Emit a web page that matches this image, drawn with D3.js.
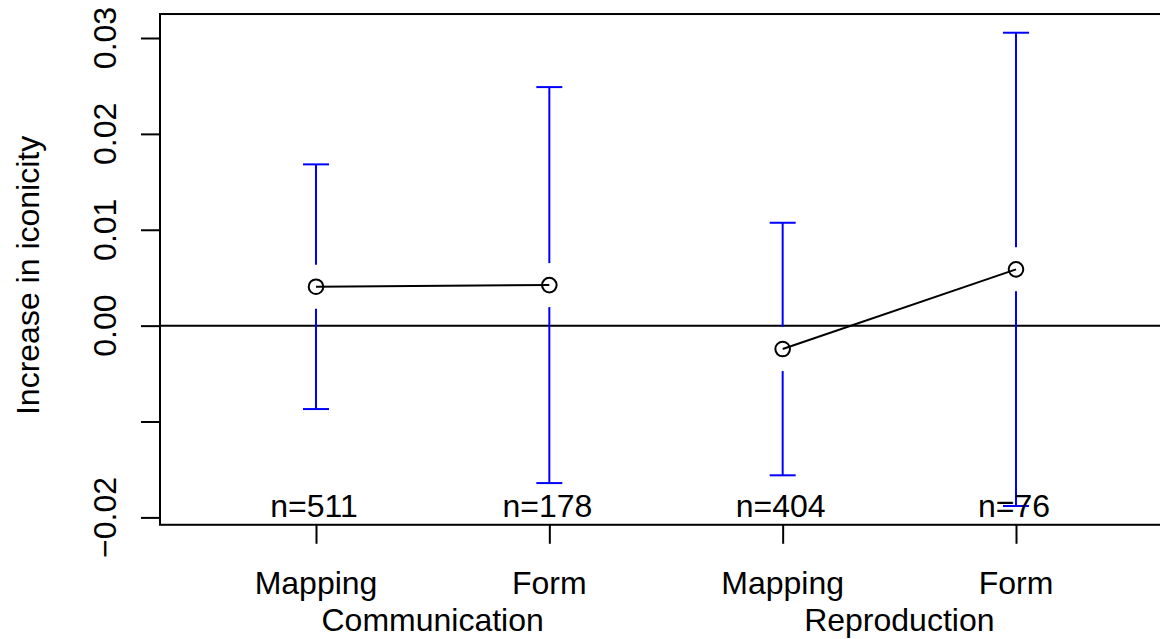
<!DOCTYPE html>
<html>
<head>
<meta charset="utf-8">
<script src="https://cdn.jsdelivr.net/npm/d3@7"></script>
<style>
  html, body { margin: 0; padding: 0; background: #fff; }
  svg { display: block; font-family: "Liberation Sans", Arial, Helvetica, sans-serif; }
</style>
</head>
<body>
<svg id="chart" width="1160" height="639"></svg>
<script>
// Condition labels (x axis), grouping labels and sample sizes
const conditions = ["Mapping", "Form", "Mapping", "Form"];
const groups = ["Communication", "Reproduction"];
const sampleSizes = [511, 178, 404, 76];

// Mean increase in iconicity and half-width of the confidence interval
const means = [0.00406, 0.00423, -0.00244, 0.00587];
const halfWidths = [0.01276, 0.02065, 0.01317, 0.02468];

// Y axis ticks; the -0.01 tick carries no label
const yTicks = [-0.02, -0.01, 0.00, 0.01, 0.02, 0.03];
const yTickLabels = ["\u22120.02", "", "0.00", "0.01", "0.02", "0.03"];

const svg = d3.select("#chart");

const x = d3.scaleLinear().domain([1, 4]).range([316, 1016]);
const y = d3.scaleLinear().domain([-0.02, 0.03]).range([517.4, 38.0]);

// Plot region (R-style 4% padding around the data range)
const boxLeft = 160, boxRight = 1175;
const boxTop = y(0.0325), boxBottom = y(-0.02077);

const fontSize = 32;
const ink = "#000";
const blue = "#0000ff";

// Zero reference line
svg.append("line")
  .attr("x1", boxLeft).attr("x2", boxRight)
  .attr("y1", y(0)).attr("y2", y(0))
  .attr("stroke", ink).attr("stroke-width", 2);

// Error bars with a gap around each point
const gap = 22, capHalf = 13;
const idx = d3.range(means.length);
const bars = svg.append("g").attr("stroke", blue).attr("stroke-width", 2).attr("fill", "none");
idx.forEach(i => {
  const cx = x(i + 1), cy = y(means[i]);
  const yHi = y(means[i] + halfWidths[i]);
  const yLo = y(means[i] - halfWidths[i]);
  bars.append("line").attr("x1", cx).attr("x2", cx).attr("y1", yHi).attr("y2", cy - gap);
  bars.append("line").attr("x1", cx).attr("x2", cx).attr("y1", cy + gap).attr("y2", yLo);
  bars.append("line").attr("x1", cx - capHalf).attr("x2", cx + capHalf).attr("y1", yHi).attr("y2", yHi);
  bars.append("line").attr("x1", cx - capHalf).attr("x2", cx + capHalf).attr("y1", yLo).attr("y2", yLo);
});

// Lines joining the two conditions within each group
const line = d3.line().x(i => x(i + 1)).y(i => y(means[i]));
[[0, 1], [2, 3]].forEach(pair => {
  svg.append("path").attr("d", line(pair))
    .attr("fill", "none").attr("stroke", ink).attr("stroke-width", 2);
});

// Open circle markers
svg.append("g").selectAll("circle").data(idx).join("circle")
  .attr("cx", i => x(i + 1)).attr("cy", i => y(means[i]))
  .attr("r", 7.3)
  .attr("fill", "none").attr("stroke", ink).attr("stroke-width", 2);

// Sample size labels along the bottom of the plot
svg.append("g").selectAll("text").data(idx).join("text")
  .attr("x", i => x(i + 1) - 2).attr("y", 517)
  .attr("text-anchor", "middle").attr("font-size", fontSize).attr("fill", ink)
  .text(i => "n=" + sampleSizes[i]);

// Plot box (no right edge inside the canvas)
svg.append("rect")
  .attr("x", boxLeft).attr("y", boxTop)
  .attr("width", boxRight - boxLeft).attr("height", boxBottom - boxTop)
  .attr("fill", "none").attr("stroke", ink).attr("stroke-width", 2);

// Y axis
const yAxis = d3.axisLeft(y).tickValues(yTicks).tickSize(19).tickFormat("");
const gy = svg.append("g").attr("transform", `translate(${boxLeft},0)`).call(yAxis);
gy.select(".domain").remove();
gy.selectAll(".tick line").attr("stroke", ink).attr("stroke-width", 2);

svg.append("g").selectAll("text").data(yTicks).join("text")
  .attr("transform", d => `translate(116,${y(d)}) rotate(-90)`)
  .attr("text-anchor", "middle").attr("font-size", fontSize).attr("fill", ink)
  .text((d, i) => yTickLabels[i]);

// X axis ticks and condition labels
const xAxis = d3.axisBottom(x).tickValues([1, 2, 3, 4]).tickSize(19).tickFormat("");
const gx = svg.append("g").attr("transform", `translate(0,${boxBottom})`).call(xAxis);
gx.select(".domain").remove();
gx.selectAll(".tick line").attr("stroke", ink).attr("stroke-width", 2);

svg.append("g").selectAll("text").data(idx).join("text")
  .attr("x", i => x(i + 1)).attr("y", 594)
  .attr("text-anchor", "middle").attr("font-size", fontSize).attr("fill", ink)
  .text(i => conditions[i]);

// Group labels centred under each pair
svg.append("g").selectAll("text").data(groups).join("text")
  .attr("x", (d, g) => (x(2 * g + 1) + x(2 * g + 2)) / 2).attr("y", 631)
  .attr("text-anchor", "middle").attr("font-size", fontSize).attr("fill", ink)
  .text(d => d);

// Y axis title
svg.append("text")
  .attr("transform", `translate(39,${(boxTop + boxBottom) / 2 + 6}) rotate(-90)`)
  .attr("text-anchor", "middle").attr("font-size", fontSize).attr("fill", ink)
  .text("Increase in iconicity");
</script>
</body>
</html>
